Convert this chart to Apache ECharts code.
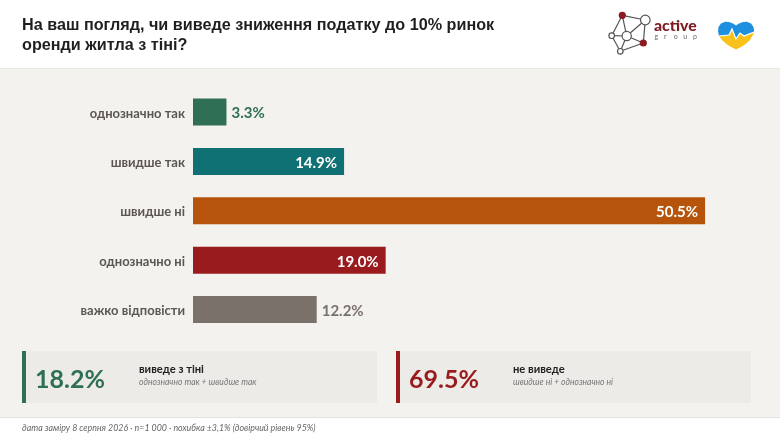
<!DOCTYPE html>
<html><head><meta charset="utf-8">
<style>html,body{margin:0;padding:0;background:#fff}#c{width:780px;height:439px}</style>
<script src="https://cdn.jsdelivr.net/npm/echarts@6/dist/echarts.min.js"></script>
</head><body><div id="c"></div>
<script>
const categories = ['однозначно так','швидше так','швидше ні','однозначно ні','важко відповісти'];
const values = [3.3,14.9,50.5,19.0,12.2];
const barColors = ['#2f6f56','#0f7173','#b5540a','#991b1e','#7a716b'];
const labelInside = [false,true,true,true,false];
const outsideColors = ['#2f6f56','#fff','#fff','#fff','#7a716b'];
const title = ['На ваш погляд, чи виведе зниження податку до 10% ринок','оренди житла з тіні?'];
const kpiValues = ['18.2%','69.5%'];
const kpiTitles = ['виведе з тіні','не виведе'];
const kpiSubs = ['однозначно так + швидше так','швидше ні + однозначно ні'];
const kpiColors = ['#2f6f56','#991b1e'];
const footer = 'дата заміру 8 серпня 2026 · n=1 000 · похибка ±3,1% (довірчий рівень 95%)';
const F = 'Lato';
const T = (x,y,text,font,fill,extra)=>({type:'text',x,y,z:5,silent:true,style:Object.assign({text,font,fill,textVerticalAlign:'middle'},extra||{})});
const R = (x,y,w,h,fill,z)=>({type:'rect',x,y,z:z||1,silent:true,shape:{x:0,y:0,width:w,height:h},style:{fill}});
const g = [
  R(0,68,780,349,'#f4f2ef',0), R(0,68,780,1,'#ebe9e6',0), R(0,417,780,1,'#e4e2df',0),
  T(22,26,title[0],'bold 16.2px "Liberation Sans"','#1f1f1f'),
  T(22,45.5,title[1],'bold 16.2px "Liberation Sans"','#1f1f1f'),
  T(22,428,footer,'italic 8.85px '+F,'#666'),
];
[[22,377],[396,751]].forEach(([a,b],i)=>{
  g.push(R(a,351,b-a,52,'#ecebe7',1), R(a,351,4,52,kpiColors[i],2));
  g.push(T(a+13,379.5,kpiValues[i],'bold 25px '+F,kpiColors[i]));
  g.push(T(a+117,369,kpiTitles[i],'bold 11.2px '+F,'#222'));
  g.push(T(a+117,382.5,kpiSubs[i],'italic 8.55px '+F,'#777'));
});
// logo
const lk=[[622.3,15.3,645.3,20],[622.3,15.3,611.7,35.7],[622.3,15.3,626.7,36],[645.3,20,626.7,36],[645.3,20,643.3,43],[611.7,35.7,626.7,36],[611.7,35.7,620.3,51.3],[626.7,36,620.3,51.3],[626.7,36,643.3,43],[620.3,51.3,643.3,43]];
lk.forEach(l=>g.push({type:'line',z:3,silent:true,shape:{x1:l[0],y1:l[1],x2:l[2],y2:l[3]},style:{stroke:'#555',lineWidth:1.2}}));
[[622.3,15.3,3,'#8b1a22'],[645.3,20,4.8,'#fff'],[611.7,35.7,2.8,'#fff'],[626.7,36,4.6,'#fff'],[643.3,43,3,'#8b1a22'],[620.3,51.3,2.8,'#fff']].forEach(n=>
  g.push({type:'circle',z:4,silent:true,shape:{cx:n[0],cy:n[1],r:n[2]},style:{fill:n[3],stroke:n[3]==='#fff'?'#555':n[3],lineWidth:1.2}}));
g.push(T(654,25.5,'active','900 15.8px '+F,'#7d1a22'));
['g','r','o','u','p'].forEach((c,i)=>g.push(T(654.5+i*9.6,36.5,c,'7px '+F,'#666')));
// heart
g.push({type:'polygon',z:3,silent:true,shape:{points:[[719,36],[722,40],[727,44.5],[732,47.5],[736,49.5],[740,47.5],[745,44.5],[750,40],[753.5,34],[754,32],[744,36],[740,33],[736,39],[732,29],[729,35]]},style:{fill:'#f9c21a'}});
g.push({type:'polygon',z:3,silent:true,shape:{points:[[719,36],[718,31],[718.5,27],[721,23.5],[725,21.7],[729,22],[733,23.5],[736,25.5],[739,23.5],[743,22],[747,21.7],[751,23.5],[753.5,27],[754,30],[754,32],[744,36],[740,33],[736,39],[732,29],[729,35]]},style:{fill:'#1f8fe0'}});
g.push({type:'polyline',z:4,silent:true,shape:{points:[[719,36],[729,35],[732,29],[736,39],[740,33],[744,36],[754,32]]},style:{stroke:'#fff',fill:null,lineWidth:1.2}});
const data = values.map((v,i)=>({value:v,itemStyle:{color:barColors[i]},
  label:{position:labelInside[i]?'insideRight':'right',color:outsideColors[i],distance:labelInside[i]?7:5,offset:[0,1.5]}}));
const chart = echarts.init(document.getElementById('c'),null,{renderer:'canvas'});
chart.setOption({
  animation:false,backgroundColor:'#fff',
  grid:{left:193,top:87.3,width:557.7,height:247,containLabel:false},
  xAxis:{type:'value',min:0,max:55,show:false},
  yAxis:{type:'category',inverse:true,data:categories,z:3,axisLine:{show:false},axisTick:{show:false},
    axisLabel:{margin:8,formatter:'{a|{value}}',
      rich:{a:{color:'#5c5652',fontFamily:F,fontWeight:'bold',fontSize:13,padding:[3,0,0,0]}}}},
  series:[{type:'bar',barWidth:27,data,z:3,
    label:{show:true,fontFamily:F,fontWeight:'bold',fontSize:15,formatter:p=>p.value.toFixed(1)+'%'}}],
  graphic:g
});
</script></body></html>
